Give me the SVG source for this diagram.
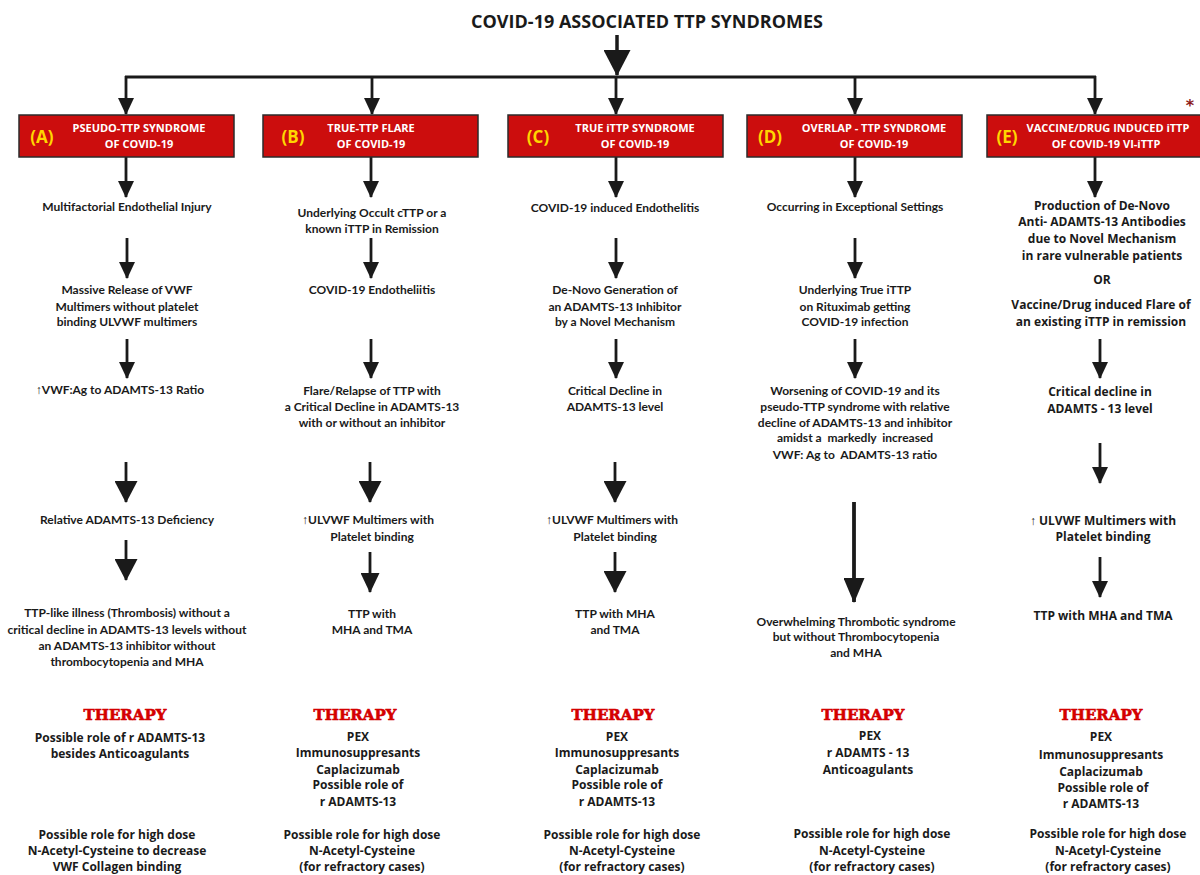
<svg xmlns="http://www.w3.org/2000/svg" width="1200" height="875" viewBox="0 0 1200 875">
<defs>
<style>
.t{font-family:Lato,"Liberation Sans",sans-serif;font-weight:700;font-size:12px;fill:#1a1a1a;text-anchor:middle}
.te{font-family:"Open Sans","Liberation Sans",sans-serif;font-weight:700;font-size:12px;fill:#1a1a1a;text-anchor:middle}
.th{font-family:"Open Sans","Liberation Sans",sans-serif;font-weight:700;font-size:12px;fill:#1a1a1a;text-anchor:middle}
.up{font-family:"Liberation Sans","DejaVu Sans",sans-serif;font-weight:400;fill:#1a1a1a}
.rx{font-family:"DejaVu Serif","Liberation Serif",serif;font-weight:700;font-size:15px;fill:#d40000;stroke:#d40000;stroke-width:0.6;text-anchor:middle}
.bx{fill:#cc0d0d;stroke:#2b2b2b;stroke-width:1.5}
.bt{font-family:"Open Sans","Liberation Sans",sans-serif;font-weight:700;font-size:11px;fill:#ffffff;text-anchor:middle}
.bl{font-family:"Open Sans","Liberation Sans",sans-serif;font-weight:700;font-size:17px;fill:#ffd600;text-anchor:middle}
.ttl{font-family:"Open Sans","Liberation Sans",sans-serif;font-weight:700;font-size:18px;fill:#1a1a1a;text-anchor:middle}
.c{stroke:#1a1a1a;stroke-width:2.8;fill:none}
.ah{fill:#1a1a1a}
</style>
<marker id="as" markerUnits="userSpaceOnUse" orient="auto" markerWidth="17" markerHeight="16" refX="16" refY="8" viewBox="0 0 17 16"><path class="ah" d="M0,0 L17,8 L0,16 Z"/></marker>
<marker id="am" markerUnits="userSpaceOnUse" orient="auto" markerWidth="20" markerHeight="19" refX="19" refY="9.5" viewBox="0 0 20 19"><path class="ah" d="M0,0 L20,9.5 L0,19 Z"/></marker>
<marker id="al" markerUnits="userSpaceOnUse" orient="auto" markerWidth="22" markerHeight="23" refX="21" refY="11.5" viewBox="0 0 22 23"><path class="ah" d="M0,0 L22,11.5 L0,23 Z"/></marker>
<marker id="axl" markerUnits="userSpaceOnUse" orient="auto" markerWidth="26" markerHeight="27" refX="25" refY="13.5" viewBox="0 0 26 27"><path class="ah" d="M0,0 L26,13.5 L0,27 Z"/></marker>
<marker id="ad" markerUnits="userSpaceOnUse" orient="auto" markerWidth="25" markerHeight="21" refX="24" refY="10.5" viewBox="0 0 25 21"><path class="ah" d="M0,0 L25,10.5 L0,21 Z"/></marker>
</defs>
<rect width="1200" height="875" fill="#ffffff"/>

<g id="title"><text class="ttl" x="647" y="28">COVID-19 ASSOCIATED TTP SYNDROMES</text></g>

<g id="connectors">
<line class="c" x1="617" y1="35" x2="617" y2="75" marker-end="url(#axl)" style="stroke-width:3.5"/>
<line class="c" x1="125" y1="77" x2="1096" y2="77"/>
<line class="c" x1="126" y1="76" x2="126" y2="114" marker-end="url(#as)"/>
<line class="c" x1="372" y1="76" x2="372" y2="114" marker-end="url(#as)"/>
<line class="c" x1="616" y1="76" x2="616" y2="114" marker-end="url(#as)"/>
<line class="c" x1="855" y1="76" x2="855" y2="114" marker-end="url(#as)"/>
<line class="c" x1="1095" y1="76" x2="1095" y2="114" marker-end="url(#as)"/>
<line class="c" x1="126" y1="157" x2="126" y2="197" marker-end="url(#as)"/>
<line class="c" x1="371" y1="157" x2="371" y2="197" marker-end="url(#as)"/>
<line class="c" x1="616" y1="157" x2="616" y2="197" marker-end="url(#as)"/>
<line class="c" x1="855" y1="157" x2="855" y2="197" marker-end="url(#as)"/>
<line class="c" x1="1095" y1="157" x2="1095" y2="197" marker-end="url(#as)"/>
<line class="c" x1="127" y1="238" x2="127" y2="278" marker-end="url(#as)"/>
<line class="c" x1="127" y1="339" x2="127" y2="378" marker-end="url(#as)"/>
<line class="c" x1="126" y1="462" x2="126" y2="502" marker-end="url(#al)"/>
<line class="c" x1="126" y1="540" x2="126" y2="580" marker-end="url(#al)"/>
<line class="c" x1="371" y1="238" x2="371" y2="278" marker-end="url(#as)"/>
<line class="c" x1="371" y1="339" x2="371" y2="378" marker-end="url(#as)"/>
<line class="c" x1="370" y1="462" x2="370" y2="502" marker-end="url(#al)"/>
<line class="c" x1="370" y1="552" x2="370" y2="592" marker-end="url(#am)"/>
<line class="c" x1="616" y1="238" x2="616" y2="278" marker-end="url(#as)"/>
<line class="c" x1="616" y1="339" x2="616" y2="378" marker-end="url(#as)"/>
<line class="c" x1="615" y1="462" x2="615" y2="502" marker-end="url(#al)"/>
<line class="c" x1="615" y1="552" x2="615" y2="592" marker-end="url(#al)"/>
<line class="c" x1="855" y1="238" x2="855" y2="278" marker-end="url(#as)"/>
<line class="c" x1="855" y1="339" x2="855" y2="378" marker-end="url(#as)"/>
<line class="c" x1="854" y1="502" x2="854" y2="602" marker-end="url(#ad)" style="stroke-width:3.8"/>
<line class="c" x1="1100" y1="339" x2="1100" y2="378" marker-end="url(#as)"/>
<line class="c" x1="1100" y1="443" x2="1100" y2="483" marker-end="url(#as)"/>
<line class="c" x1="1100" y1="557" x2="1100" y2="597" marker-end="url(#as)"/>
</g>

<g id="box-a">
<rect class="bx" x="19" y="115" width="215" height="42"/>
<text class="bl" x="42" y="143">(A)</text>
<text class="bt" x="139" y="132">PSEUDO-TTP SYNDROME</text>
<text class="bt" x="139" y="148">OF COVID-19</text>
</g>
<g id="box-b">
<rect class="bx" x="263" y="115" width="215" height="42"/>
<text class="bl" x="293" y="143">(B)</text>
<text class="bt" x="371" y="132">TRUE-TTP FLARE</text>
<text class="bt" x="371" y="148">OF COVID-19</text>
</g>
<g id="box-c">
<rect class="bx" x="508" y="115" width="215" height="42"/>
<text class="bl" x="538" y="143">(C)</text>
<text class="bt" x="635" y="132">TRUE iTTP SYNDROME</text>
<text class="bt" x="635" y="148">OF COVID-19</text>
</g>
<g id="box-d">
<rect class="bx" x="747" y="115" width="215" height="42"/>
<text class="bl" x="770" y="143">(D)</text>
<text class="bt" x="874" y="132">OVERLAP - TTP SYNDROME</text>
<text class="bt" x="874" y="148">OF COVID-19</text>
</g>
<g id="box-e">
<rect class="bx" x="987" y="115" width="214" height="42"/>
<text class="bl" x="1007" y="143">(E)</text>
<text class="bt" x="1108" y="132">VACCINE/DRUG INDUCED iTTP</text>
<text class="bt" x="1106" y="148">OF COVID-19 VI-iTTP</text>
<text x="1190" y="111" style="font-family:'DejaVu Sans',sans-serif;font-size:16px;font-weight:700;fill:#8b1a1a;text-anchor:middle">*</text>
</g>

<g id="col-a">
<text class="t" x="127" y="211">Multifactorial Endothelial Injury</text>
<text class="t" x="127" y="294">Massive Release of VWF</text>
<text class="t" x="127" y="311">Multimers without platelet</text>
<text class="t" x="127" y="326">binding ULVWF multimers</text>
<text class="t" x="120" y="394"><tspan class="up">↑︎</tspan>VWF:Ag to ADAMTS-13 Ratio</text>
<text class="t" x="127" y="524">Relative ADAMTS-13 Deficiency</text>
<text class="t" x="127" y="617">TTP-like illness (Thrombosis) without a</text>
<text class="t" x="127" y="634">critical decline in ADAMTS-13 levels without</text>
<text class="t" x="127" y="650">an ADAMTS-13 inhibitor without</text>
<text class="t" x="127" y="666">thrombocytopenia and MHA</text>
<text class="rx" x="125" y="720">THERAPY</text>
<text class="th" x="120" y="742">Possible role of r ADAMTS-13</text>
<text class="th" x="120" y="758">besides Anticoagulants</text>
<text class="th" x="117" y="839">Possible role for high dose</text>
<text class="th" x="117" y="855">N-Acetyl-Cysteine to decrease</text>
<text class="th" x="117" y="871">VWF Collagen binding</text>
</g>

<g id="col-b">
<text class="t" x="372" y="217">Underlying Occult cTTP or a</text>
<text class="t" x="372" y="233">known iTTP in Remission</text>
<text class="t" x="372" y="294">COVID-19 Endotheliitis</text>
<text class="t" x="372" y="395">Flare/Relapse of TTP with</text>
<text class="t" x="372" y="411">a Critical Decline in ADAMTS-13</text>
<text class="t" x="372" y="427">with or without an inhibitor</text>
<text class="t" x="368" y="524"><tspan class="up">↑︎</tspan>ULVWF Multimers with</text>
<text class="t" x="372" y="541">Platelet binding</text>
<text class="t" x="372" y="618">TTP with</text>
<text class="t" x="372" y="634">MHA and TMA</text>
<text class="rx" x="355" y="720">THERAPY</text>
<text class="th" x="358" y="741">PEX</text>
<text class="th" x="358" y="757">Immunosuppresants</text>
<text class="th" x="358" y="774">Caplacizumab</text>
<text class="th" x="358" y="789">Possible role of</text>
<text class="th" x="358" y="806">r ADAMTS-13</text>
<text class="th" x="362" y="839">Possible role for high dose</text>
<text class="th" x="362" y="855">N-Acetyl-Cysteine</text>
<text class="th" x="362" y="871">(for refractory cases)</text>
</g>

<g id="col-c">
<text class="t" x="615" y="212">COVID-19 induced Endothelitis</text>
<text class="t" x="615" y="294">De-Novo Generation of</text>
<text class="t" x="615" y="311">an ADAMTS-13 Inhibitor</text>
<text class="t" x="615" y="326">by a Novel Mechanism</text>
<text class="t" x="615" y="395">Critical Decline in</text>
<text class="t" x="615" y="411">ADAMTS-13 level</text>
<text class="t" x="612" y="524"><tspan class="up">↑︎</tspan>ULVWF Multimers with</text>
<text class="t" x="615" y="541">Platelet binding</text>
<text class="t" x="615" y="618">TTP with MHA</text>
<text class="t" x="615" y="634">and TMA</text>
<text class="rx" x="613" y="720">THERAPY</text>
<text class="th" x="617" y="741">PEX</text>
<text class="th" x="617" y="757">Immunosuppresants</text>
<text class="th" x="617" y="774">Caplacizumab</text>
<text class="th" x="617" y="789">Possible role of</text>
<text class="th" x="617" y="806">r ADAMTS-13</text>
<text class="th" x="622" y="839">Possible role for high dose</text>
<text class="th" x="622" y="855">N-Acetyl-Cysteine</text>
<text class="th" x="622" y="871">(for refractory cases)</text>
</g>

<g id="col-d">
<text class="t" x="855" y="211">Occurring in Exceptional Settings</text>
<text class="t" x="855" y="294">Underlying True iTTP</text>
<text class="t" x="855" y="311">on Rituximab getting</text>
<text class="t" x="855" y="326">COVID-19 infection</text>
<text class="t" x="855" y="395">Worsening of COVID-19 and its</text>
<text class="t" x="855" y="411">pseudo-TTP syndrome with relative</text>
<text class="t" x="855" y="427">decline of ADAMTS-13 and inhibitor</text>
<text class="t" x="855" y="442" xml:space="preserve">amidst a  markedly  increased</text>
<text class="t" x="855" y="459" xml:space="preserve">VWF: Ag to  ADAMTS-13 ratio</text>
<text class="t" x="856" y="626">Overwhelming Thrombotic syndrome</text>
<text class="t" x="856" y="641">but without Thrombocytopenia</text>
<text class="t" x="856" y="657">and MHA</text>
<text class="rx" x="863" y="720">THERAPY</text>
<text class="th" x="870" y="740">PEX</text>
<text class="th" x="868" y="757">r ADAMTS - 13</text>
<text class="th" x="868" y="774">Anticoagulants</text>
<text class="th" x="872" y="838">Possible role for high dose</text>
<text class="th" x="872" y="855">N-Acetyl-Cysteine</text>
<text class="th" x="872" y="871">(for refractory cases)</text>
</g>

<g id="col-e">
<text class="te" x="1102" y="210">Production of De-Novo</text>
<text class="te" x="1102" y="226">Anti- ADAMTS-13 Antibodies</text>
<text class="te" x="1102" y="243">due to Novel Mechanism</text>
<text class="te" x="1102" y="260">in rare vulnerable patients</text>
<text class="te" x="1102" y="284">OR</text>
<text class="te" x="1101" y="309">Vaccine/Drug induced Flare of</text>
<text class="te" x="1101" y="326">an existing iTTP in remission</text>
<text class="te" x="1100" y="396">Critical decline in</text>
<text class="te" x="1100" y="413">ADAMTS - 13 level</text>
<text class="te" x="1103" y="525"><tspan class="up">↑︎</tspan> ULVWF Multimers with</text>
<text class="te" x="1103" y="541">Platelet binding</text>
<text class="te" x="1103" y="620">TTP with MHA and TMA</text>
<text class="rx" x="1101" y="720">THERAPY</text>
<text class="th" x="1101" y="741">PEX</text>
<text class="th" x="1101" y="759">Immunosuppresants</text>
<text class="th" x="1101" y="776">Caplacizumab</text>
<text class="th" x="1103" y="792">Possible role of</text>
<text class="th" x="1101" y="808">r ADAMTS-13</text>
<text class="th" x="1108" y="838">Possible role for high dose</text>
<text class="th" x="1108" y="855">N-Acetyl-Cysteine</text>
<text class="th" x="1108" y="871">(for refractory cases)</text>
</g>
</svg>
